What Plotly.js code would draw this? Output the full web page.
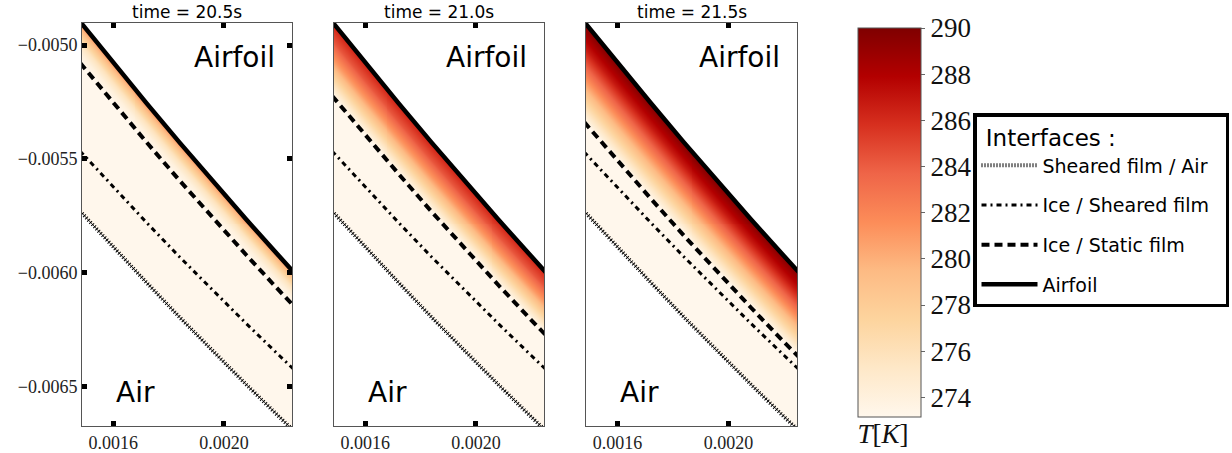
<!DOCTYPE html>
<html>
<head>
<meta charset="utf-8">
<script src="https://cdn.plot.ly/plotly-3.0.1.min.js"></script>
<style>html,body{margin:0;padding:0;background:#fff;}#chart{width:1232px;height:453px;}</style>
</head>
<body>
<div id="chart"></div>
<script>
// ---------------- data ----------------
const TIMES = ['20.5', '21.0', '21.5'];
const X = [0.00148, 0.00160, 0.00172, 0.00184, 0.00196, 0.00208, 0.00220, 0.00226];
const AIRFOIL = [-0.004897, -0.005078, -0.005255, -0.005429, -0.005599, -0.005766, -0.005929, -0.006009];
const SHEARED_AIR = [-0.005730, -0.005889, -0.006044, -0.006197, -0.006347, -0.006492, -0.006635, -0.006705];
const ICE_SHEARED_205 = [-0.005466, -0.005625, -0.005780, -0.005932, -0.006080, -0.006224, -0.006365, -0.006435];
const ICE_SHEARED_210 = [-0.005466, -0.005625, -0.005780, -0.005932, -0.006080, -0.006224, -0.006365, -0.006435];
const ICE_SHEARED_215 = [-0.005470, -0.005627, -0.005781, -0.005932, -0.006080, -0.006224, -0.006365, -0.006435];
const ICE_STATIC_205 = [-0.005078, -0.005254, -0.005427, -0.005596, -0.005761, -0.005922, -0.006080, -0.006157];
const ICE_STATIC_210 = [-0.005223, -0.005397, -0.005566, -0.005733, -0.005895, -0.006054, -0.006209, -0.006285];
const ICE_STATIC_215 = [-0.005338, -0.005508, -0.005675, -0.005839, -0.005998, -0.006154, -0.006307, -0.006381];
// temperature across the static film: fraction from airfoil (0) to ice/static film interface (1)
const PROFILE_S = [0, 0.25, 0.5, 0.75, 1.0];
const T_205 = [281.5, 278.5, 275.8, 274.1, 273.15];
const T_210 = [286.5, 284.3, 281.0, 277.0, 273.15];
const T_215 = [290.0, 286.8, 282.5, 277.8, 273.15];
const T_ICE = 273.15;
const X_TICKS = [0.0016, 0.0020];
const Y_TICKS = [-0.0050, -0.0055, -0.0060, -0.0065];
const CB_TICKS = [274, 276, 278, 280, 282, 284, 286, 288, 290];
const NAMES = ['Sheared film / Air', 'Ice / Sheared film', 'Ice / Static film', 'Airfoil'];

const ICE_SHEARED = [ICE_SHEARED_205, ICE_SHEARED_210, ICE_SHEARED_215];
const ICE_STATIC = [ICE_STATIC_205, ICE_STATIC_210, ICE_STATIC_215];
const TPROF = [T_205, T_210, T_215];

// ---------------- layout constants ----------------
const W = 1232, H = 453;
const XR = [0.001487, 0.002246], YR = [-0.006675, -0.004903];
const PANEL_PX = [[82, 292], [334, 544], [586, 797]];
const TOP_PX = 23, BOT_PX = 426;
const OrRd = [[0, '#fff7ec'], [0.125, '#fee8c8'], [0.25, '#fdd49e'], [0.375, '#fdbb84'], [0.5, '#fc8d59'],
  [0.625, '#ef6548'], [0.75, '#d7301f'], [0.875, '#b30000'], [1, '#7f0000']];

function interp(xs, ys, x) {
  let i = 0;
  if (x <= xs[0]) i = 0;
  else if (x >= xs[xs.length - 1]) i = xs.length - 2;
  else { while (x > xs[i + 1]) i++; }
  const t = (x - xs[i]) / (xs[i + 1] - xs[i]);
  return ys[i] + t * (ys[i + 1] - ys[i]);
}

const NX = 212, NY = 404;
const gx = [], gy = [];
for (let i = 0; i < NX; i++) gx.push(XR[0] + (i + 0.5) * (XR[1] - XR[0]) / NX);
for (let j = 0; j < NY; j++) gy.push(YR[0] + (j + 0.5) * (YR[1] - YR[0]) / NY);

const data = [];
const annotations = [];
const layout = {
  width: W, height: H,
  margin: {l: 0, r: 0, t: 0, b: 0, autoexpand: false},
  paper_bgcolor: '#fff', plot_bgcolor: '#fff',
  showlegend: true,
  coloraxis: {
    colorscale: OrRd, cmin: 273.15, cmax: 290,
    colorbar: {
      x: 858 / W, xanchor: 'left', xpad: 0,
      y: 1 - 28 / H, yanchor: 'top', ypad: 0,
      lenmode: 'pixels', len: 424,
      thicknessmode: 'pixels', thickness: 63,
      outlinecolor: '#555', outlinewidth: 1,
      tickmode: 'array', tickvals: CB_TICKS,
      ticks: 'outside', ticklen: 4, tickcolor: '#666',
      tickfont: {family: 'Liberation Serif', size: 27, color: '#111'},
      title: {text: '<i>T</i>[<i>K</i>]', side: 'bottom', font: {family: 'Liberation Serif', size: 27, color: '#111'}}
    }
  },
  legend: {
    x: 973 / W, y: 1 - 113 / H, xanchor: 'left', yanchor: 'top',
    bordercolor: '#000', borderwidth: 3.5, bgcolor: '#fff',
    font: {family: 'DejaVu Sans', size: 19, color: '#000'},
    title: {text: '&nbsp;Interfaces :', font: {family: 'DejaVu Sans', size: 23, color: '#000'}},
    itemwidth: 56, traceorder: 'grouped', tracegroupgap: 12
  },
  annotations: annotations
};

for (let p = 0; p < 3; p++) {
  const sfx = p === 0 ? '' : String(p + 1);
  const xa = 'x' + sfx, ya = 'y' + sfx;
  // temperature field
  const z = [];
  for (let j = 0; j < NY; j++) {
    const row = [];
    const y = gy[j];
    for (let i = 0; i < NX; i++) {
      const yA = interp(X, AIRFOIL, gx[i]);
      const yD = interp(X, ICE_STATIC[p], gx[i]);
      const yW = interp(X, SHEARED_AIR, gx[i]);
      if (y > yA || y < yW) { row.push(null); continue; }
      const s = (yA - y) / (yA - yD);
      row.push(s >= 1 ? T_ICE : interp(PROFILE_S, TPROF[p], s));
    }
    z.push(row);
  }
  data.push({type: 'heatmap', x: gx, y: gy, z: z, coloraxis: 'coloraxis', zsmooth: false,
    xaxis: xa, yaxis: ya, hoverinfo: 'skip', showlegend: false});
  const show = p === 0;
  // Sheared film / Air : thin line with cross ticks
  data.push({type: 'scatter', mode: 'lines', x: X, y: SHEARED_AIR, xaxis: xa, yaxis: ya,
    line: {color: '#000', width: 0.8}, showlegend: false, hoverinfo: 'skip'});
  data.push({type: 'scatter', mode: 'lines', x: X, y: SHEARED_AIR, xaxis: xa, yaxis: ya,
    name: NAMES[0] + '&nbsp;&nbsp;',
    legendgroup: 'g0', legendrank: 1,
    line: {color: '#000', width: 4, dash: '1px,2px'}, showlegend: show, hoverinfo: 'skip'});
  data.push({type: 'scatter', mode: 'lines', x: X, y: ICE_SHEARED[p], xaxis: xa, yaxis: ya, name: NAMES[1],
    legendgroup: 'g1', legendrank: 2,
    line: {color: '#000', width: 3, dash: '5px,4px,2px,4px'}, showlegend: show, hoverinfo: 'skip'});
  data.push({type: 'scatter', mode: 'lines', x: X, y: ICE_STATIC[p], xaxis: xa, yaxis: ya, name: NAMES[2],
    legendgroup: 'g2', legendrank: 3,
    line: {color: '#000', width: 4, dash: '8px,5px'}, showlegend: show, hoverinfo: 'skip'});
  data.push({type: 'scatter', mode: 'lines', x: X, y: AIRFOIL, xaxis: xa, yaxis: ya, name: NAMES[3],
    legendgroup: 'g3', legendrank: 4,
    line: {color: '#000', width: 4.5}, showlegend: show, hoverinfo: 'skip'});

  const dom = [PANEL_PX[p][0] / W, PANEL_PX[p][1] / W];
  layout['xaxis' + sfx] = {
    domain: dom, range: XR, anchor: ya,
    tickmode: 'array', tickvals: X_TICKS, tickformat: '.4f',
    ticks: 'inside', ticklen: 5, tickwidth: 5, tickcolor: '#000',
    showline: true, linecolor: '#555', linewidth: 1, mirror: 'ticks',
    showgrid: false, zeroline: false, fixedrange: true,
    tickfont: {family: 'Liberation Serif', size: 18, color: '#222'}
  };
  layout['yaxis' + sfx] = {
    domain: [1 - BOT_PX / H, 1 - TOP_PX / H], range: YR, anchor: xa,
    showline: true, linecolor: '#555', linewidth: 1,
    showgrid: false, zeroline: false, fixedrange: true,
    tickfont: {family: 'Liberation Serif', size: 18, color: '#222'}
  };
  if (p === 0) {
    Object.assign(layout.yaxis, {tickmode: 'array', tickvals: Y_TICKS, tickformat: '.4f',
      ticks: 'inside', ticklen: 5, tickwidth: 5, tickcolor: '#000', mirror: 'ticks'});
  } else {
    Object.assign(layout['yaxis' + sfx], {showticklabels: false, ticks: '', mirror: true});
  }
  annotations.push({text: 'time = ' + TIMES[p] + 's', xref: xa + ' domain', yref: ya + ' domain',
    x: 0.5, y: 1, xanchor: 'center', yanchor: 'bottom', yshift: -1, showarrow: false,
    font: {family: 'DejaVu Sans', size: 17, color: '#000'}});
  annotations.push({text: 'Airfoil', xref: xa + ' domain', yref: ya + ' domain',
    x: 0.525, y: 0.914, xanchor: 'left', yanchor: 'middle', showarrow: false,
    font: {family: 'DejaVu Sans', size: 28, color: '#000'}});
  annotations.push({text: 'Air', xref: xa + ' domain', yref: ya + ' domain',
    x: 0.15, y: 0.084, xanchor: 'left', yanchor: 'middle', showarrow: false,
    font: {family: 'DejaVu Sans', size: 28, color: '#000'}});
}

Plotly.newPlot('chart', data, layout, {staticPlot: true, displayModeBar: false});
</script>
</body>
</html>
